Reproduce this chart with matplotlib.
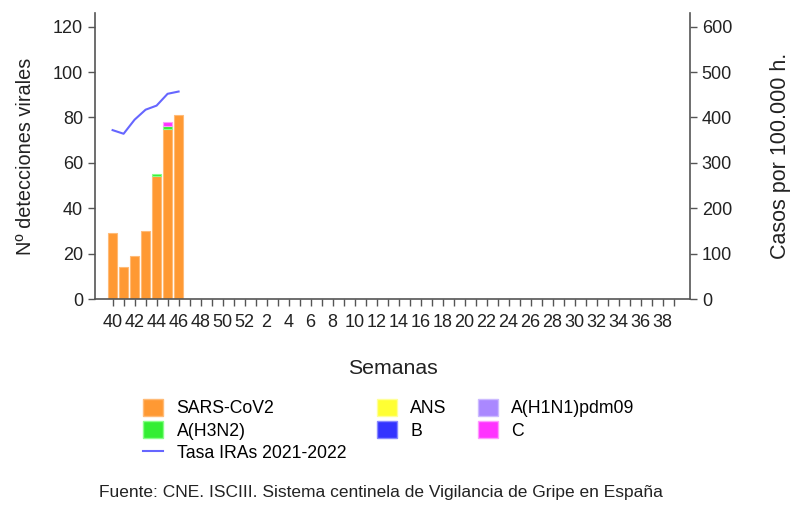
import matplotlib
matplotlib.use("Agg")
import matplotlib.pyplot as plt
import numpy as np
from matplotlib.patches import Patch
from matplotlib.lines import Line2D

plt.rcParams['font.family'] = ['Liberation Sans', 'DejaVu Sans']

weeks = list(range(40, 53)) + list(range(1, 40))
week_labels = [str(w) if i % 2 == 0 else '' for i, w in enumerate(weeks)]

# Virus detections per week (only first 7 weeks have data)
sars_cov2 = [29, 14, 19, 30, 54, 75, 81]
ans = [0, 0, 0, 0, 0, 0, 0]
h1n1 = [0, 0, 0, 0, 0, 0, 0]
h3n2 = [0, 0, 0, 0, 1, 1, 0]
b_vals = [0, 0, 0, 0, 0, 0, 0]
c_vals = [0, 0, 0, 0, 0, 2, 0]
tasa_iras = [372, 364, 395, 417, 426, 452, 457]

series = [
    ('SARS-CoV2', sars_cov2, '#FF9933', '#FFBB77'),
    ('ANS', ans, '#FFFF33', '#FFFF99'),
    ('A(H1N1)pdm09', h1n1, '#AA88FF', '#CCBBFF'),
    ('A(H3N2)', h3n2, '#33EE33', '#88FF88'),
    ('B', b_vals, '#3333FF', '#8888FF'),
    ('C', c_vals, '#FF33FF', '#FF99FF'),
]

fig = plt.figure(figsize=(8.09, 5.22), dpi=100)
ax = fig.add_axes([95/809, 1-299/522, (690-95)/809, (299-13)/522])
x = np.arange(len(sars_cov2))
bottom = np.zeros(len(x))
for name, vals, col, ecol in series:
    v = np.array(vals, dtype=float)
    lw = [0.8 if val > 0 else 0 for val in v]
    ax.bar(x, v, bottom=bottom, width=0.8, color=col, edgecolor=ecol, linewidth=lw)
    bottom += v

ax.set_xlim(-1.6, 52.5)
ax.set_ylim(0, 126)
ax.set_yticks(range(0, 121, 20))
ax.set_xticks(range(len(weeks)))
ax.set_xticklabels(week_labels)
for s in ['top', 'right']:
    ax.spines[s].set_visible(False)
for s in ['left', 'bottom']:
    ax.spines[s].set_color('#555555')
    ax.spines[s].set_linewidth(1.2)
ax.tick_params(axis='both', colors='#555555', labelcolor='#222222', labelsize=13, length=5, width=1)
ax.tick_params(axis='x', pad=6)
ax.set_ylabel('Nº detecciones virales', fontsize=14.3, color='#222222', labelpad=13)
ax.set_xlabel('Semanas', fontsize=15.3, color='#222222', labelpad=20)

ax2 = ax.twinx()
ax2.plot(x, tasa_iras, color='#6666FF', linewidth=1.5)
ax2.set_ylim(0, 630)
ax2.set_yticks(range(0, 601, 100))
for s in ['top', 'left', 'bottom']:
    ax2.spines[s].set_visible(False)
ax2.spines['right'].set_color('#555555')
ax2.spines['right'].set_linewidth(1.2)
ax2.tick_params(axis='y', colors='#555555', labelcolor='#222222', labelsize=13, length=5, width=1)
ax2.set_ylabel('Casos por 100.000 h.', fontsize=15.5, color='#222222', labelpad=27)

handles = [
    Patch(facecolor='#FF9933', edgecolor='#FFBB77', label='SARS-CoV2'),
    Patch(facecolor='#33EE33', edgecolor='#88FF88', label='A(H3N2)'),
    Line2D([0], [0], color='#6666FF', linewidth=1.5, label='Tasa IRAs 2021-2022'),
    Patch(facecolor='#FFFF33', edgecolor='#FFFF99', label='ANS'),
    Patch(facecolor='#3333FF', edgecolor='#8888FF', label='B'),
    Patch(facecolor='#AA88FF', edgecolor='#CCBBFF', label='A(H1N1)pdm09'),
    Patch(facecolor='#FF33FF', edgecolor='#FF99FF', label='C'),
]
fig.legend(handles=handles, ncol=3, loc='upper left', bbox_to_anchor=(143/809, 1-399/522),
           frameon=False, fontsize=12.7, handlelength=1.15, handleheight=1.1,
           labelspacing=0.22, columnspacing=1.75, handletextpad=0.75,
           borderpad=0, borderaxespad=0)

fig.text(381/809, 1-492/522, 'Fuente: CNE. ISCIII. Sistema centinela de Vigilancia de Gripe en España',
         ha='center', va='center', fontsize=12.5, color='#222222')

fig.savefig('out.png', dpi=100)
